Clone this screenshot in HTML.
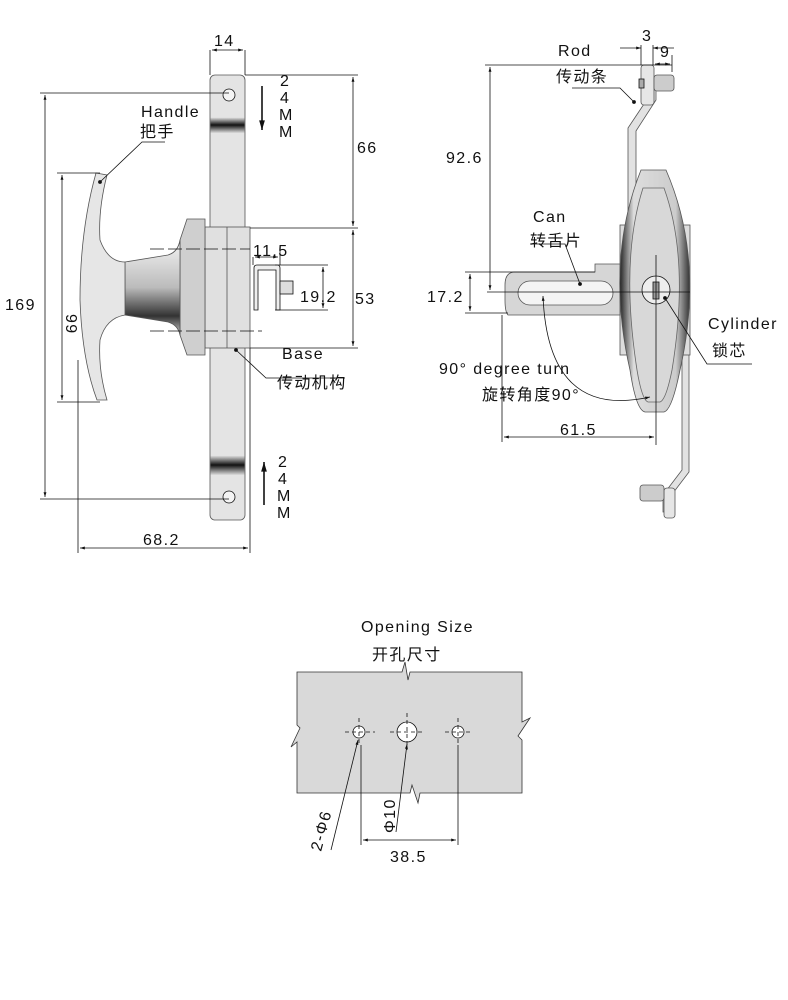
<!DOCTYPE html>
<html><head><meta charset="utf-8"><style>
html,body{margin:0;padding:0;background:#fff;}
svg{display:block;}
text{font-family:"Liberation Sans","Noto Sans CJK SC",sans-serif;fill:#111;letter-spacing:1.4px;}
</style></head><body>
<svg width="788" height="1000" viewBox="0 0 788 1000" xmlns="http://www.w3.org/2000/svg">
<defs>
<marker id="a" viewBox="0 0 10 10" refX="10" refY="5" markerWidth="8" markerHeight="6" orient="auto-start-reverse"><path d="M0,2 L10,5 L0,8 z" fill="#111"/></marker>
<linearGradient id="band" x1="0" y1="0" x2="0" y2="1"><stop offset="0" stop-color="#eee"/><stop offset="0.5" stop-color="#111"/><stop offset="1" stop-color="#ddd"/></linearGradient>
<linearGradient id="knob" x1="0" y1="0" x2="0" y2="1"><stop offset="0" stop-color="#f4f4f4"/><stop offset="0.5" stop-color="#bbb"/><stop offset="0.8" stop-color="#333"/><stop offset="1" stop-color="#ccc"/></linearGradient>
<linearGradient id="body" x1="0" y1="0" x2="1" y2="0"><stop offset="0" stop-color="#222"/><stop offset="0.2" stop-color="#ddd"/><stop offset="0.8" stop-color="#ccc"/><stop offset="1" stop-color="#333"/></linearGradient>
</defs>
<g stroke="#111" stroke-width="0.8" fill="none">
<!-- LEFT VIEW -->
<rect x="210" y="75" width="35" height="445" rx="5" fill="#e4e4e4" stroke="#555"/>
<rect x="210.5" y="117" width="34" height="16" fill="url(#band)" stroke="none"/>
<rect x="210.5" y="455" width="34" height="20" fill="url(#band)" stroke="none"/>
<circle cx="229" cy="95" r="6" fill="#f4f4f4"/>
<circle cx="229" cy="497" r="6" fill="#f4f4f4"/>
<rect x="205" y="227" width="45" height="121" fill="#e0e0e0" stroke="#555"/>
<line x1="227" y1="227" x2="227" y2="348" stroke="#555"/>
<path d="M180,240 L187,219 L205,219 L205,355 L187,355 L180,335 Z" fill="#cfcfcf" stroke="#555"/>
<path d="M125,262 L168,255 Q178,252 180,240 L180,335 Q178,325 168,322 L125,315 Z" fill="url(#knob)" stroke="#555"/>
<path d="M96,173 L107,175 Q98,210 100,240 Q108,262 125,262 L125,315 Q106,318 100,340 Q98,370 107,400 L97,400 Q82,360 80,300 Q80,230 96,173 Z" fill="#e6e6e6" stroke="#555"/>
<circle cx="100" cy="182" r="1.5" fill="#111"/>
<polyline points="100,182 142,142 165,142"/>
<!-- dims left -->
<line x1="210" y1="50" x2="210" y2="75"/><line x1="245" y1="50" x2="245" y2="75"/>
<line x1="212" y1="50" x2="243" y2="50" marker-start="url(#a)" marker-end="url(#a)"/>
<line x1="40" y1="93" x2="229" y2="93"/><line x1="40" y1="499" x2="229" y2="499"/>
<line x1="45" y1="95" x2="45" y2="497" marker-start="url(#a)" marker-end="url(#a)"/>
<line x1="57" y1="173" x2="100" y2="173"/><line x1="57" y1="402" x2="100" y2="402"/>
<line x1="62" y1="175" x2="62" y2="400" marker-start="url(#a)" marker-end="url(#a)"/>
<line x1="245" y1="75" x2="358" y2="75"/><line x1="250" y1="228" x2="358" y2="228"/><line x1="250" y1="348" x2="358" y2="348"/>
<line x1="353" y1="77" x2="353" y2="226" marker-start="url(#a)" marker-end="url(#a)"/>
<line x1="353" y1="230" x2="353" y2="346" marker-start="url(#a)" marker-end="url(#a)"/>
<line x1="78" y1="360" x2="78" y2="553"/><line x1="250" y1="348" x2="250" y2="553"/>
<line x1="80" y1="548" x2="248" y2="548" marker-start="url(#a)" marker-end="url(#a)"/>
<line x1="150" y1="249" x2="250" y2="249" stroke-dasharray="14,4"/>
<line x1="150" y1="331" x2="262" y2="331" stroke-dasharray="14,4"/>
<path d="M254,310 L254,268 Q254,265 257,265 L277,265 Q280,265 280,268 L280,310 L276,310 L276,270 L258,270 L258,310 Z" fill="#eee"/>
<rect x="280" y="281" width="13" height="13" fill="#ddd"/>
<line x1="253" y1="257" x2="253" y2="265"/><line x1="280" y1="250" x2="280" y2="265"/>
<line x1="255" y1="257" x2="278" y2="257" marker-start="url(#a)" marker-end="url(#a)"/>
<line x1="275" y1="265" x2="328" y2="265"/><line x1="275" y1="310" x2="328" y2="310"/>
<line x1="323" y1="267" x2="323" y2="308" marker-start="url(#a)" marker-end="url(#a)"/>
<circle cx="236" cy="350" r="1.5" fill="#111"/>
<polyline points="236,350 266,378 345,378"/>
<line x1="262" y1="86" x2="262" y2="130" stroke-width="1.6" marker-end="url(#a)"/>
<line x1="264" y1="505" x2="264" y2="462" stroke-width="1.6" marker-end="url(#a)"/>
<!-- RIGHT VIEW -->
<path d="M648,90 L648,98 L628,128 L628,235 L636,235 L636,131 L656,100 L656,90 Z" fill="#e2e2e2" stroke="#555"/>
<path d="M682,350 L682,470 L663,495 L663,512 L670,512 L670,497 L689,472 L689,350 Z" fill="#e2e2e2" stroke="#555"/>
<rect x="641" y="65" width="13" height="40" rx="3" fill="#e6e6e6" stroke="#555"/>
<rect x="654" y="75" width="20" height="16" rx="3" fill="#ccc" stroke="#555"/>
<rect x="639" y="79" width="5" height="9" fill="#aaa"/>
<rect x="664" y="488" width="11" height="30" rx="3" fill="#e6e6e6" stroke="#555"/>
<rect x="640" y="485" width="24" height="16" rx="3" fill="#ccc" stroke="#555"/>
<rect x="620" y="225" width="70" height="130" fill="#ddd" stroke="#555"/>
<path d="M595,272 L595,264 L620,264 L620,315 L508,315 Q505,312 505,300 L505,285 Q505,272 515,272 Z" fill="#d6d6d6" stroke="#555"/>
<rect x="518" y="281" width="95" height="24" rx="12" fill="#f4f4f4" stroke="#555"/>
<path d="M641,170 L666,170 Q705,260 680,370 Q672,410 664,412 L645,412 Q636,410 630,370 Q605,260 641,170 Z" fill="url(#body)" stroke="#555"/>
<path d="M643,188 L664,188 Q690,260 672,370 Q666,400 660,402 L648,402 Q642,400 637,370 Q620,260 643,188 Z" fill="#d8d8d8" stroke="#666"/>
<circle cx="656" cy="290" r="14" fill="#eee"/>
<rect x="653" y="282" width="6" height="17" fill="#999"/>
<line x1="656" y1="255" x2="656" y2="445"/>
<line x1="487" y1="292" x2="690" y2="292"/>
<circle cx="580" cy="284" r="1.5" fill="#111"/>
<polyline points="530,244 565,244 580,284"/>
<circle cx="665" cy="298" r="1.5" fill="#111"/>
<polyline points="665,298 707,364 752,364"/>
<circle cx="634" cy="102" r="1.5" fill="#111"/>
<polyline points="634,102 620,88 572,88"/>
<path d="M543,296 Q548,420 650,397" marker-start="url(#a)" marker-end="url(#a)"/>
<line x1="485" y1="65" x2="672" y2="65"/>
<line x1="490" y1="67" x2="490" y2="290" marker-start="url(#a)" marker-end="url(#a)"/>
<line x1="641" y1="45" x2="641" y2="65"/><line x1="653" y1="45" x2="653" y2="65"/><line x1="672" y1="55" x2="672" y2="72"/>
<line x1="620" y1="48" x2="641" y2="48" marker-end="url(#a)"/><line x1="674" y1="48" x2="653" y2="48" marker-end="url(#a)"/>
<line x1="655" y1="64" x2="670" y2="64" marker-start="url(#a)" marker-end="url(#a)"/>
<line x1="465" y1="272" x2="595" y2="272"/><line x1="465" y1="313" x2="508" y2="313"/>
<line x1="470" y1="274" x2="470" y2="311" marker-start="url(#a)" marker-end="url(#a)"/>
<line x1="502" y1="315" x2="502" y2="442"/>
<line x1="504" y1="437" x2="654" y2="437" marker-start="url(#a)" marker-end="url(#a)"/>
<!-- OPENING -->
<path d="M297,672 L402,672 L405,662 L408,680 L410,672 L522,672 L522,722 L530,718 L518,736 L522,740 L522,793 L420,793 L418,803 L412,785 L410,793 L297,793 L297,742 L291,747 L300,728 L297,725 Z" fill="#d9d9d9" stroke="#333"/>
<circle cx="359" cy="732" r="6" fill="#fff"/><circle cx="407" cy="732" r="10" fill="#fff"/><circle cx="458" cy="732" r="6" fill="#fff"/>
<g stroke-dasharray="4,3"><line x1="345" y1="732" x2="375" y2="732"/><line x1="359" y1="718" x2="359" y2="746"/>
<line x1="390" y1="732" x2="425" y2="732"/><line x1="407" y1="713" x2="407" y2="750"/>
<line x1="445" y1="732" x2="472" y2="732"/><line x1="458" y1="718" x2="458" y2="746"/></g>
<line x1="361" y1="745" x2="361" y2="845"/><line x1="458" y1="745" x2="458" y2="845"/>
<line x1="363" y1="840" x2="456" y2="840" marker-start="url(#a)" marker-end="url(#a)"/>
<line x1="331" y1="850" x2="358" y2="740" marker-end="url(#a)"/>
<line x1="396" y1="832" x2="407" y2="744" marker-end="url(#a)"/>
</g>
<g font-size="16">
<text x="214" y="46">14</text>
<text x="280" y="86">2</text><text x="280" y="103">4</text><text x="279" y="120">M</text><text x="279" y="137">M</text>
<text x="278" y="467">2</text><text x="278" y="484">4</text><text x="277" y="501">M</text><text x="277" y="518">M</text>
<text x="141" y="117">Handle</text><text x="140" y="137">把手</text>
<text x="357" y="153">66</text><text x="355" y="304">53</text>
<text x="5" y="310">169</text>
<text x="253" y="256">11.5</text><text x="300" y="302">19.2</text>
<text x="282" y="359">Base</text><text x="277" y="388">传动机构</text>
<text x="143" y="545">68.2</text>
<text transform="translate(66,314) rotate(90)" x="0" y="0">99</text>
<text x="558" y="56">Rod</text><text x="556" y="82">传动条</text>
<text x="642" y="41">3</text><text x="660" y="57">9</text>
<text x="446" y="163">92.6</text>
<text x="533" y="222">Can</text><text x="530" y="246">转舌片</text>
<text x="427" y="302">17.2</text>
<text x="708" y="329">Cylinder</text><text x="712" y="356">锁芯</text>
<text x="439" y="374">90°  degree turn</text><text x="482" y="400">旋转角度90°</text>
<text x="560" y="435">61.5</text>
<text x="361" y="632">Opening Size</text><text x="372" y="660">开孔尺寸</text>
<text x="390" y="862">38.5</text>
<text transform="translate(321,852) rotate(-75)">2-Φ6</text>
<text transform="translate(395,833) rotate(-90)">Φ10</text>
</g>
</svg>
</body></html>
